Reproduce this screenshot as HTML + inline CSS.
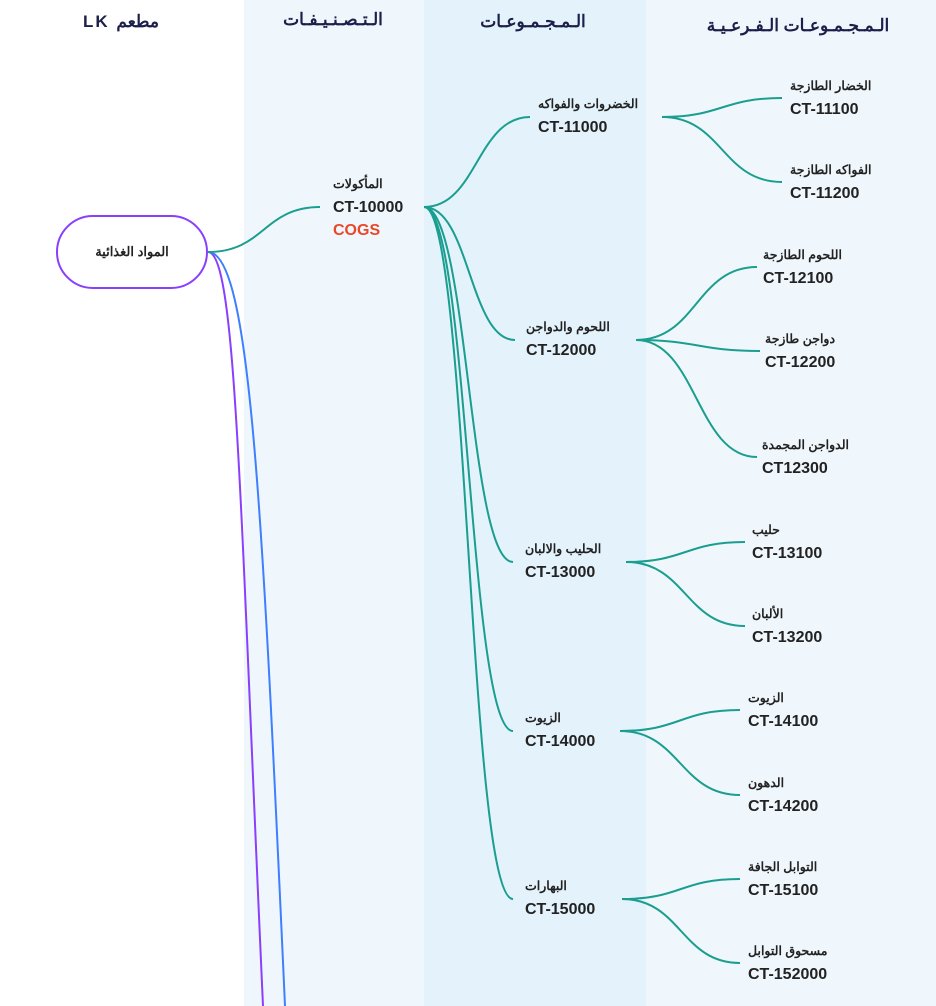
<!DOCTYPE html>
<html><head><meta charset="utf-8"><style>
body{margin:0;width:936px;height:1006px;overflow:hidden;background:#fff;font-family:"Liberation Sans","Noto Sans CJK SC",sans-serif;position:relative}
.col{position:absolute;top:0;height:1006px}
.hd{position:absolute;font-weight:bold;font-size:17px;color:#1c1f4a;letter-spacing:2px;transform:translateX(-50%);white-space:nowrap}
.node{position:absolute;white-space:nowrap;color:#222}
.lab{font-size:12.5px;font-weight:bold;line-height:16px;height:16px}
.code{font-size:16px;font-weight:bold;line-height:24px;margin-top:4px}
svg{position:absolute;left:0;top:0}
</style></head><body>
<div class="col" style="left:0;width:244px;background:#fff"></div>
<div class="col" style="left:244px;width:180px;background:#f0f7fc"></div>
<div class="col" style="left:424px;width:222px;background:#e3f2fb"></div>
<div class="col" style="left:646px;width:290px;background:#f0f7fc"></div>
<div class="hd" style="left:121px;top:12px">LK مطعم</div>
<div class="hd" style="left:333px;top:10px">الـتـصـنـيـفـات</div>
<div class="hd" style="left:533px;top:12px">الـمـجـمـوعـات</div>
<div class="hd" style="left:798px;top:16px">الـمـجـمـوعـات الـفـرعـيـة</div>
<svg width="936" height="1006" id="svg">
<path d="M208 252 C236 252 240 500 263 1006" stroke="#8a3ffc" stroke-width="2" fill="none"/>
<path d="M208 252 C250 252 262 500 285 1006" stroke="#3d7fff" stroke-width="2" fill="none"/>
</svg>
<div style="position:absolute;left:56px;top:215px;width:148px;height:70px;border:2px solid #8a3ffc;border-radius:37px;background:#fff;display:flex;align-items:center;justify-content:center;font-size:13px;font-weight:bold;color:#222">المواد الغذائية</div>
<div id="nodes"></div>
<script>
const svg=document.getElementById('svg');
const nodesEl=document.getElementById('nodes');
function curve(x1,y1,x2,y2){
  const p=document.createElementNS('http://www.w3.org/2000/svg','path');
  const m=(x1+x2)/2;
  p.setAttribute('d',`M${x1} ${y1} C${m} ${y1} ${m} ${y2} ${x2} ${y2}`);
  p.setAttribute('stroke','#1a9e8f');p.setAttribute('stroke-width','2');p.setAttribute('fill','none');
  
  
  svg.appendChild(p);
}
function node(x,y,label,code,extra){
  const d=document.createElement('div');
  d.className='node';
  d.style.left=x+'px';d.style.top=(y-8)+'px';
  
  
  d.innerHTML=`<div class="lab">${label}</div><div class="code">${code}</div>`+(extra?`<div class="code" style="color:#e8472a;line-height:22px;margin-top:0">${extra}</div>`:'');
  nodesEl.appendChild(d);
}
curve(208,252,320,207);
node(333,184,'المأكولات','CT-10000','COGS');
const groups=[
 ['الخضروات والفواكه','CT-11000',538,104,530,662],
 ['اللحوم والدواجن','CT-12000',526,327,515,636],
 ['الحليب والالبان','CT-13000',525,549,513,626],
 ['الزيوت','CT-14000',525,718,513,620],
 ['البهارات','CT-15000',525,886,513,622]];
const subs=[
 [0,'الخضار الطازجة','CT-11100',790,86,782],
 [0,'الفواكه الطازجة','CT-11200',790,170,782],
 [1,'اللحوم الطازجة','CT-12100',763,255,757],
 [1,'دواجن طازجة','CT-12200',765,339,760],
 [1,'الدواجن المجمدة','CT12300',762,445,757],
 [2,'حليب','CT-13100',752,530,745],
 [2,'الألبان','CT-13200',752,614,745],
 [3,'الزيوت','CT-14100',748,698,740],
 [3,'الدهون','CT-14200',748,783,740],
 [4,'التوابل الجافة','CT-15100',748,867,740],
 [4,'مسحوق التوابل','CT-152000',748,951,740]];
groups.forEach(g=>{curve(424,207,g[4],g[3]+13);node(g[2],g[3],g[0],g[1]);});
subs.forEach(s=>{const g=groups[s[0]];curve(g[5],g[3]+13,s[5],s[4]+12);node(s[3],s[4],s[1],s[2]);});
</script>
</body></html>
